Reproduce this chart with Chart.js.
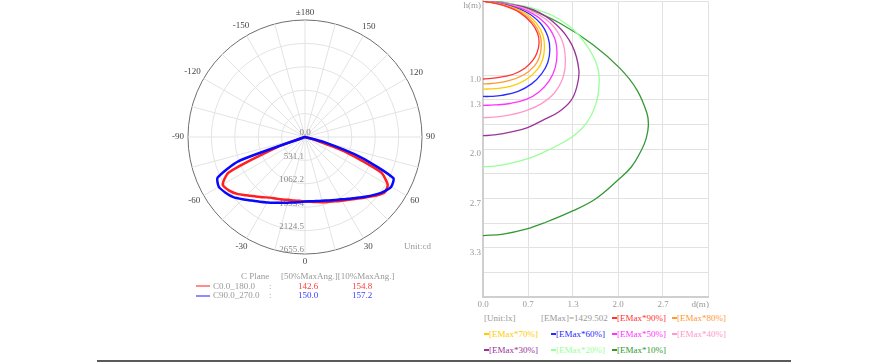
<!DOCTYPE html>
<html>
<head>
<meta charset="utf-8">
<script src="https://cdn.jsdelivr.net/npm/chart.js@4.4.1/dist/chart.umd.min.js"></script>
<style>
  html, body { margin: 0; padding: 0; background: #fff; }
  #page { position: relative; width: 894px; height: 364px; overflow: hidden; font-family: 'Liberation Serif', serif; }
  #polarBox { position: absolute; left: 160px; top: 0; width: 290px; height: 275px; }
  #isoBox { position: absolute; left: 455px; top: 0; width: 270px; height: 312px; }
  .t { position: absolute; font-size: 9px; line-height: 10px; white-space: pre; color: #999; }
  .dash { display: inline-block; width: 5px; height: 2px; vertical-align: middle; margin-bottom: 1px; }
  .sample { position: absolute; width: 14px; height: 1.5px; }
  #rule { position: absolute; left: 97px; top: 360px; width: 694px; height: 2px; background: #5a5a5a; }
</style>
</head>
<body>
<div id="page">
  <div id="polarBox"><canvas id="polar" width="290" height="275"></canvas></div>
  <div id="isoBox"><canvas id="iso" width="270" height="312"></canvas></div>

  <div class="t" style="left:404px; top:241px;">Unit:cd</div>

  <div class="t" style="left:241px; top:271px;">C Plane</div>
  <div class="t" style="left:281px; top:271px;">[50%MaxAng.][10%MaxAng.]</div>
  <div class="sample" style="left:196px; top:285px; background:#ff8c8c;"></div>
  <div class="t" style="left:213px; top:281px;">C0.0_180.0</div>
  <div class="t" style="left:269px; top:281px;">:</div>
  <div class="t" style="left:298px; top:281px; color:#ff3b3b;">142.6</div>
  <div class="t" style="left:352px; top:281px; color:#ff3b3b;">154.8</div>
  <div class="sample" style="left:196px; top:295px; background:#8c8cff;"></div>
  <div class="t" style="left:213px; top:290px;">C90.0_270.0</div>
  <div class="t" style="left:269px; top:290px;">:</div>
  <div class="t" style="left:298px; top:290px; color:#3b3bff;">150.0</div>
  <div class="t" style="left:352px; top:290px; color:#3b3bff;">157.2</div>

  <div class="t" style="left:484px; top:313px;">[Unit:lx]</div>
  <div class="t" style="left:541px; top:313px;">[EMax]=1429.502</div>
  <div id="isoLegend"></div>

  <div id="rule"></div>
</div>
<script>
// -- polar intensity data (cd), one value every 5 degrees, 180 at top, 0 at bottom --
const angles = [180, 175, 170, 165, 160, 155, 150, 145, 140, 135, 130, 125, 120, 115, 110, 105, 100, 95,
    90, 85, 80, 75, 70, 65, 60, 55, 50, 45, 40, 35, 30, 25, 20, 15, 10, 5, 0,
    -5, -10, -15, -20, -25, -30, -35, -40, -45, -50, -55, -60, -65, -70, -75,
    -80, -85, -90, -95, -100, -105, -110, -115, -120, -125, -130, -135, -140, -145, -150, -155, -160, -165, -170, -175];

const c0Int = [0, 0, 0, 0, 0, 0, 0, 0, 0, 0, 0, 0, 0, 0, 0, 0, 0, 0,
    0, 0, 0, 182, 953, 1907, 2168, 2202, 2077, 1941, 1827, 1737, 1668, 1612, 1566, 1532, 1498, 1476, 1464,
    1453, 1464, 1476, 1510, 1544, 1589, 1668, 1759, 1873, 2009, 2111, 2156, 1918, 681, 0,
    0, 0, 0, 0, 0, 0, 0, 0, 0, 0, 0, 0, 0, 0, 0, 0, 0, 0, 0, 0];

const c90Int = [0, 0, 0, 0, 0, 0, 0, 0, 0, 0, 0, 0, 0, 0, 0, 0, 0, 0,
    0, 0, 0, 454, 1362, 2213, 2259, 2168, 2043, 1918, 1805, 1714, 1634, 1578, 1532, 1498, 1476, 1464, 1464,
    1487, 1510, 1544, 1589, 1646, 1714, 1793, 1884, 1998, 2122, 2202, 2259, 2191, 1612, 0,
    0, 0, 0, 0, 0, 0, 0, 0, 0, 0, 0, 0, 0, 0, 0, 0, 0, 0, 0, 0];

const radialTicks = [0, 531.12, 1062.24, 1593.36, 2124.48, 2655.6];

// -- iso-illuminance curves, [d(m), h(m)] --
const e90 = [[0, 0], [0.3, 0.06], [0.55, 0.16], [0.72, 0.3], [0.81, 0.44], [0.83, 0.57], [0.8, 0.7], [0.74, 0.8], [0.62, 0.91], [0.45, 0.99], [0.22, 1.035], [0, 1.054]];
const e80 = [[0, 0], [0.3, 0.055], [0.57, 0.155], [0.75, 0.3], [0.845, 0.46], [0.864, 0.6], [0.835, 0.76], [0.76, 0.88], [0.6, 1.0], [0.37, 1.08], [0.12, 1.115], [0, 1.12]];
const e70 = [[0, 0], [0.3, 0.05], [0.6, 0.15], [0.79, 0.3], [0.89, 0.47], [0.91, 0.64], [0.88, 0.8], [0.8, 0.93], [0.64, 1.06], [0.42, 1.15], [0.17, 1.185], [0, 1.19]];
const e60 = [[0, 0], [0.3, 0.045], [0.63, 0.145], [0.85, 0.3], [0.96, 0.48], [0.99, 0.66], [0.96, 0.83], [0.87, 0.98], [0.72, 1.12], [0.52, 1.22], [0.28, 1.275], [0.1, 1.29], [0, 1.29]];
const e50 = [[0, 0], [0.3, 0.04], [0.67, 0.14], [0.92, 0.3], [1.06, 0.5], [1.096, 0.7], [1.07, 0.9], [0.98, 1.08], [0.83, 1.23], [0.64, 1.33], [0.4, 1.385], [0.17, 1.405], [0, 1.41]];
const e40 = [[0, 0], [0.3, 0.035], [0.7, 0.13], [1.0, 0.3], [1.17, 0.53], [1.22, 0.78], [1.19, 1.02], [1.06, 1.24], [0.86, 1.39], [0.64, 1.48], [0.4, 1.54], [0.17, 1.57], [0, 1.575]];
const e30 = [[0, 0], [0.3, 0.03], [0.75, 0.12], [1.1, 0.33], [1.32, 0.6], [1.42, 0.93], [1.39, 1.16], [1.3, 1.35], [1.12, 1.5], [0.91, 1.6], [0.66, 1.71], [0.42, 1.77], [0.17, 1.81], [0, 1.82]];
const e20 = [[0, 0], [0.3, 0.025], [0.8, 0.115], [1.25, 0.32], [1.55, 0.62], [1.7, 0.9], [1.72, 1.13], [1.67, 1.4], [1.54, 1.64], [1.36, 1.81], [1.11, 1.95], [0.91, 2.04], [0.667, 2.13], [0.42, 2.19], [0.17, 2.23], [0, 2.24]];
const e10 = [[0, 0], [0.3, 0.02], [0.65, 0.1], [1.14, 0.3], [1.63, 0.59], [2.03, 0.91], [2.28, 1.2], [2.43, 1.52], [2.45, 1.68], [2.42, 1.85], [2.35, 2.01], [2.2, 2.24], [2.0, 2.42], [1.66, 2.68], [1.32, 2.84], [0.93, 2.99], [0.65, 3.08], [0.3, 3.15], [0, 3.17]];

const isoNames = ['[EMax*90%]', '[EMax*80%]', '[EMax*70%]', '[EMax*60%]', '[EMax*50%]', '[EMax*40%]', '[EMax*30%]', '[EMax*20%]', '[EMax*10%]'];
const isoColors = ['#ff3333', '#ff9933', '#ffcc00', '#2a2aff', '#ff33ff', '#ff99cc', '#993399', '#99ff99', '#339933'];

const dTicks = [0, 2 / 3, 4 / 3, 2, 8 / 3, 10 / 3];
// trailing spaces pull the last (unit) label a little to the left, as in the original
const dLabels = ['0.0', '0.7', '1.3', '2.0', '2.7', 'd(m)       '];
const hTicks = [0, 1, 4 / 3, 5 / 3, 2, 7 / 3, 8 / 3, 3, 10 / 3, 11 / 3, 4];
const hLabels = ['h(m)', '1.0', '1.3', '', '2.0', '', '2.7', '', '3.3', '', ''];

const FONT = 'Liberation Serif';

// -- Polar chart --
// Draws the value labels down the 0 spoke and the angle labels round the rim
const polarText = {
    id: 'polarText',
    beforeDatasetsDraw(chart) {
        const r = chart.scales.r;
        const ctx = chart.ctx;
        ctx.save();
        ctx.font = `9px "${FONT}"`;
        ctx.textBaseline = 'middle';
        ctx.fillStyle = '#8a8a8a';
        radialTicks.forEach((v, i) => {
            const y = r.yCenter + r.getDistanceFromCenterForValue(v) - 4;
            ctx.textAlign = i === 0 ? 'center' : 'right';
            ctx.fillText(v.toFixed(1), i === 0 ? r.xCenter : r.xCenter - 1, y);
        });
        ctx.restore();
    },
    afterDraw(chart) {
        const r = chart.scales.r;
        const ctx = chart.ctx;
        const R = r.drawingArea;
        ctx.save();
        ctx.font = `9px "${FONT}"`;
        ctx.textBaseline = 'middle';
        ctx.textAlign = 'center';
        ctx.fillStyle = '#444';
        angles.forEach((a, i) => {
            if (a % 30 !== 0) return;
            const text = a === 180 ? '\u00b1180' : String(a);
            const w = ctx.measureText(text).width;
            const ang = r.getIndexAngle(i) - Math.PI / 2;
            const c = Math.cos(ang), s = Math.sin(ang);
            const d = R + 4 + Math.abs(c) * w / 2 + Math.abs(s) * 3.5;
            ctx.fillText(text, r.xCenter + c * d, r.yCenter + s * d);
        });
        ctx.restore();
    }
};

new Chart(document.getElementById('polar'), {
    type: 'radar',
    data: {
        labels: angles,
        datasets: [
            { label: 'C0.0_180.0', data: c0Int, borderColor: '#ff1f1f', borderWidth: 2.5, fill: false, pointRadius: 0, tension: 0.2, order: 2 },
            { label: 'C90.0_270.0', data: c90Int, borderColor: '#0808ff', borderWidth: 2.5, fill: false, pointRadius: 0, tension: 0.2, order: 1 }
        ]
    },
    options: {
        responsive: false,
        animation: false,
        events: [],
        layout: { padding: { left: 28, right: 28, top: 20, bottom: 21 } },
        plugins: { legend: { display: false }, tooltip: { enabled: false } },
        scales: {
            r: {
                min: 0,
                max: 2655.6,
                afterBuildTicks: (s) => { s.ticks = radialTicks.map(v => ({ value: v })); },
                ticks: { display: false },
                pointLabels: { display: false },
                grid: {
                    circular: true,
                    color: (c) => c.index === radialTicks.length - 1 ? '#6e6e6e' : '#e3e3e3',
                    lineWidth: 1
                },
                angleLines: {
                    color: '#e3e3e3',
                    lineWidth: (c) => c.index % 3 === 0 ? 1 : 0
                }
            }
        }
    },
    plugins: [polarText]
});

// -- Iso-illuminance chart --
const isoSeries = [e90, e80, e70, e60, e50, e40, e30, e20, e10];

new Chart(document.getElementById('iso'), {
    type: 'scatter',
    data: {
        datasets: isoSeries.map((pts, i) => ({
            label: isoNames[i],
            data: pts.map(p => ({ x: p[0], y: p[1] })),
            showLine: true,
            borderColor: isoColors[i],
            borderWidth: 1.3,
            pointRadius: 0,
            tension: 0.4,
            fill: false
        }))
    },
    options: {
        responsive: false,
        animation: false,
        events: [],
        layout: { padding: { left: 0, right: 17, top: 1, bottom: 0 } },
        plugins: { legend: { display: false }, tooltip: { enabled: false } },
        scales: {
            x: {
                type: 'linear',
                min: 0,
                max: 10 / 3,
                afterBuildTicks: (s) => { s.ticks = dTicks.map(v => ({ value: v })); },
                afterFit: (s) => { s.height = 15; s.paddingLeft = 0; s.paddingRight = 0; },
                ticks: {
                    callback: (v, i) => dLabels[i],
                    color: '#999',
                    font: { family: FONT, size: 9 },
                    padding: 2,
                    maxRotation: 0,
                    autoSkip: false
                },
                grid: { color: '#e2e2e2', drawTicks: false },
                border: { color: '#cfcfcf', width: 2 }
            },
            y: {
                type: 'linear',
                reverse: true,
                min: 0,
                max: 4,
                afterBuildTicks: (s) => { s.ticks = hTicks.map(v => ({ value: v })); },
                afterFit: (s) => { s.width = 28; s.paddingTop = 0; s.paddingBottom = 0; },
                ticks: {
                    callback: (v, i) => hLabels[i],
                    color: '#999',
                    font: { family: FONT, size: 9 },
                    padding: 2,
                    labelOffset: 5,
                    autoSkip: false
                },
                grid: { color: '#e2e2e2', drawTicks: false },
                border: { color: '#cfcfcf', width: 2 }
            }
        }
    }
});

// -- Legend for iso curves, 4 columns after the two info items --
const legendSpots = [[612, 313], [672, 313], [484, 328.5], [551, 328.5], [612, 328.5], [672, 328.5], [484, 344.5], [551, 344.5], [612, 344.5]];
const legendBox = document.getElementById('isoLegend');
isoNames.forEach((name, i) => {
    const item = document.createElement('div');
    item.className = 't';
    item.style.left = legendSpots[i][0] + 'px';
    item.style.top = legendSpots[i][1] + 'px';
    item.style.color = isoColors[i];
    item.innerHTML = `<span class="dash" style="background:${isoColors[i]}"></span>${name}`;
    legendBox.appendChild(item);
});
</script>
</body>
</html>
